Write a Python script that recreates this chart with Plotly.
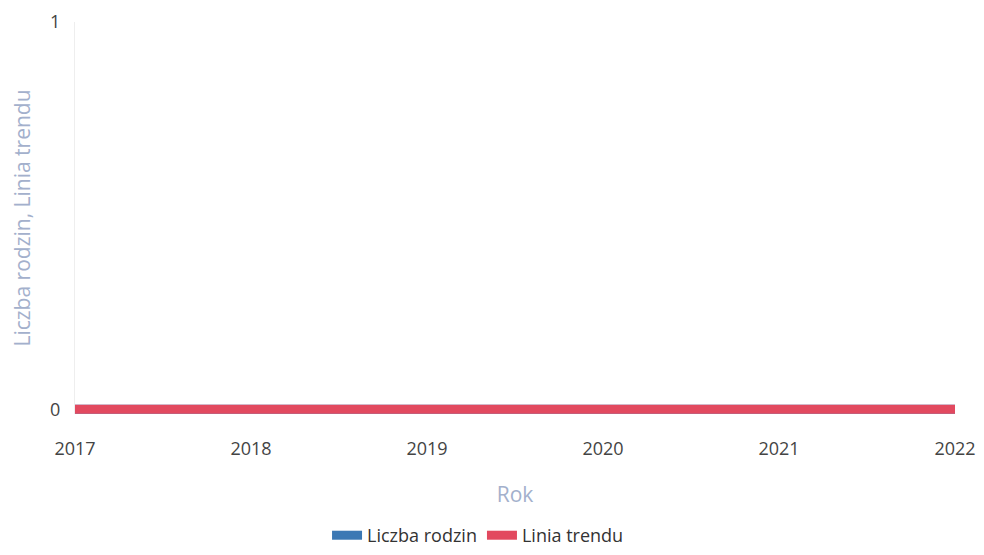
import plotly.graph_objects as go

years = [2017, 2018, 2019, 2020, 2021, 2022]
liczba_rodzin = [0, 0, 0, 0, 0, 0]
linia_trendu = [0, 0, 0, 0, 0, 0]

fig = go.Figure()
fig.add_trace(go.Scatter(x=years, y=liczba_rodzin, name="Liczba rodzin", mode="lines",
                         line=dict(color="#3b78b4", width=9)))
fig.add_trace(go.Scatter(x=years, y=linia_trendu, name="Linia trendu", mode="lines",
                         line=dict(color="#e2495f", width=9)))

fig.update_layout(
    width=968, height=539,
    margin=dict(l=67, r=21, t=14, b=133, autoexpand=False),
    paper_bgcolor="white", plot_bgcolor="white",
    font=dict(family="Open Sans", size=18, color="#444"),
    showlegend=True,
    legend=dict(orientation="h", x=0.458, xanchor="center", y=-0.31, yanchor="middle",
                itemwidth=30, font=dict(size=18, color="#333")),
    xaxis=dict(range=[2017, 2022], tickmode="array", tickvals=years,
               ticktext=[str(y) for y in years], showgrid=False, zeroline=False,
               showline=False, ticks="", ticklabelstandoff=22,
               tickfont=dict(size=18, color="#444"),
               title=dict(text="Rok", font=dict(size=21, color="#a3b0cc"), standoff=28)),
    yaxis=dict(range=[-0.012, 1], tickvals=[0, 1], showgrid=False, zeroline=False,
               showline=True, linecolor="#eeeeee", linewidth=1, ticks="",
               ticklabelstandoff=10,
               tickfont=dict(size=18, color="#444"),
               title=dict(text="Liczba rodzin, Linia trendu",
                          font=dict(size=21, color="#a3b0cc"), standoff=14)),
)

fig.write_html("out.html")
